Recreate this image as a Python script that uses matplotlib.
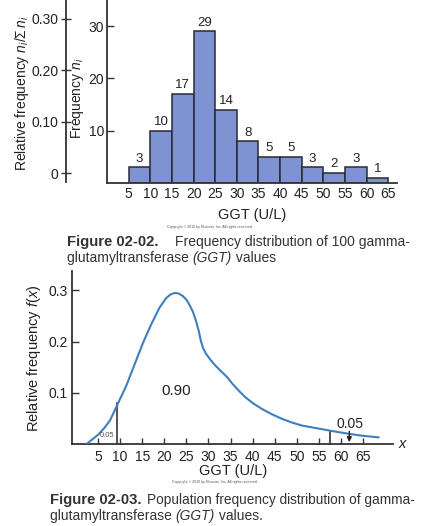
import matplotlib
matplotlib.use("Agg")
import matplotlib.pyplot as plt

plt.rcParams['font.family'] = ['Liberation Sans', 'DejaVu Sans']
plt.rcParams['mathtext.fontset'] = 'custom'
plt.rcParams['mathtext.rm'] = 'Liberation Sans'
plt.rcParams['mathtext.it'] = 'Liberation Sans:italic'
plt.rcParams['mathtext.bf'] = 'Liberation Sans:bold'

# ---- data: histogram (Figure 02-02)
bin_left = [5, 10, 15, 20, 25, 30, 35, 40, 45, 50, 55, 60]
counts = [3, 10, 17, 29, 14, 8, 5, 5, 3, 2, 3, 1]
bin_width = 5
x_ticks_top = [5, 10, 15, 20, 25, 30, 35, 40, 45, 50, 55, 60, 65]
freq_ticks = [10, 20, 30]
rel_ticks = [0, 0.10, 0.20, 0.30]
rel_labels = ["0", "0.10", "0.20", "0.30"]

# ---- data: population curve (Figure 02-03)
curve_x = [2.4, 3.7, 5.0, 6.4, 7.7, 9.5, 11.4, 13.3, 15.2, 17.0, 18.9, 20.4,
           21.4, 22.3, 23.3, 24.2, 25.0, 25.7, 26.5, 27.2, 27.8, 28.3, 28.8,
           29.4, 30.5, 31.7, 33.0, 34.3, 35.4, 36.9, 38.4, 40.2, 42.2, 44.4,
           46.7, 48.9, 51.2, 54.4, 57.6, 61.7, 65.0, 68.5]
curve_y = [0.0, 0.009, 0.018, 0.031, 0.046, 0.079, 0.114, 0.156, 0.198, 0.233,
           0.266, 0.285, 0.292, 0.295, 0.294, 0.289, 0.282, 0.272, 0.258, 0.240,
           0.221, 0.201, 0.187, 0.177, 0.164, 0.152, 0.141, 0.130, 0.118, 0.104,
           0.091, 0.079, 0.068, 0.058, 0.049, 0.042, 0.036, 0.031, 0.026, 0.020,
           0.016, 0.013]
lower_cut = (9.4, 0.081)
upper_cut = (57.6, 0.026)
x_ticks_bot = [5, 10, 15, 20, 25, 30, 35, 40, 45, 50, 55, 60, 65]
y_ticks_bot = [0.1, 0.2, 0.3]

W, H = 429, 526
fig = plt.figure(figsize=(W / 100, H / 100), dpi=100)


def axes_px(left, top, right, bottom, **kw):
    return fig.add_axes([left / W, 1 - bottom / H, (right - left) / W, (bottom - top) / H], **kw)


def ftext(x, y, s, **kw):
    return fig.text(x / W, 1 - y / H, s, **kw)


def text_run(x, y, pieces):
    """Place text pieces one after another on a line starting at pixel x."""
    renderer = fig.canvas.get_renderer()
    cur = x
    for s, kw in pieces:
        t = ftext(cur, y, s, ha='left', va='center', color='#333333', **kw)
        bb = t.get_window_extent(renderer=renderer)
        cur += bb.width


# ---------- top histogram ----------
ax = axes_px(107, 0, 397, 183)
ax.bar(bin_left, counts, width=bin_width, align='edge', color='#7f93d3',
       edgecolor='#2a2a35', linewidth=1.1, zorder=2)
for xl, c in zip(bin_left, counts):
    ax.text(xl + bin_width / 2, c + 0.5, str(c), ha='center', va='bottom',
            fontsize=9.5, color='#222222')
ax.set_xlim(0, 67)
ax.set_ylim(0, 35)
for s in ['top', 'right']:
    ax.spines[s].set_visible(False)
for s in ['left', 'bottom']:
    ax.spines[s].set_color('#333333')
    ax.spines[s].set_linewidth(1.3)
ax.set_xticks(x_ticks_top)
ax.set_xticklabels([str(v) for v in x_ticks_top])
ax.tick_params(axis='x', length=0, pad=3, labelsize=10, colors='#222222')
ax.set_yticks(freq_ticks)
ax.tick_params(axis='y', direction='in', length=5, width=1, pad=2,
               labelsize=10, colors='#333333', labelcolor='#222222')
ax.patch.set_alpha(0)

# relative frequency axis
rel_px = 0.30 / 155.0
axr = axes_px(66, 0, 67, 182)
axr.set_ylim(-9 * rel_px, 0.30 + 19 * rel_px)
axr.set_xticks([])
for s in ['top', 'right', 'bottom']:
    axr.spines[s].set_visible(False)
axr.spines['left'].set_color('#333333')
axr.spines['left'].set_linewidth(1.3)
axr.set_yticks(rel_ticks)
axr.set_yticklabels(rel_labels)
axr.tick_params(axis='y', direction='inout', length=7, width=1, pad=2,
                labelsize=10, colors='#333333', labelcolor='#222222')
axr.patch.set_alpha(0)

ftext(22, 93, r"Relative frequency $n_i/\Sigma\, n_i$", rotation=90,
      ha='center', va='center', fontsize=10, color='#222222')
ftext(78, 98, r"Frequency $n_i$", rotation=90,
      ha='center', va='center', fontsize=10, color='#222222')
ftext(252, 215, "GGT (U/L)", ha='center', va='center', fontsize=10.5, color='#222222')
ftext(210, 227, "Copyright \u00a9 2010 by Elsevier, Inc. All rights reserved.",
      ha='center', va='center', fontsize=2.6, color='#555555')

# caption 1
ftext(67, 242, "Figure 02-02.", ha='left', va='center', fontsize=10.7,
      fontweight='bold', color='#333333')
ftext(175, 242, "Frequency distribution of 100 gamma-", ha='left', va='center',
      fontsize=10, color='#333333')
text_run(67, 258, [("glutamyltransferase ", dict(fontsize=10)),
                   ("(GGT)", dict(fontsize=10, style='italic')),
                   (" values", dict(fontsize=10))])

# ---------- bottom curve ----------
ax2 = axes_px(72, 271, 393, 444)
ax2.plot(curve_x, curve_y, color='#3d7fbf', linewidth=1.5, zorder=3,
         solid_joinstyle='round')
ax2.plot([lower_cut[0], lower_cut[0]], [0, lower_cut[1]], color='#333333', linewidth=1.2)
ax2.plot([upper_cut[0], upper_cut[0]], [0, upper_cut[1]], color='#333333', linewidth=1.2)
ax2.annotate("", xy=(61.9, 0.0035), xytext=(61.9, 0.025),
             arrowprops=dict(arrowstyle='-|>', color='#222222', lw=1.0,
                             mutation_scale=7, shrinkA=0, shrinkB=0))
ax2.text(62.1, 0.039, "0.05", ha='center', va='center', fontsize=10, color='#222222')
ax2.text(22.7, 0.103, "0.90", ha='center', va='center', fontsize=11, color='#222222')
ax2.text(7.05, 0.016, "0.05", ha='center', va='center', fontsize=5.5, color='#555555')
ax2.set_xlim(-0.9, 71.8)
ax2.set_ylim(0, 0.338)
for s in ['top', 'right']:
    ax2.spines[s].set_visible(False)
for s in ['left', 'bottom']:
    ax2.spines[s].set_color('#333333')
    ax2.spines[s].set_linewidth(1.3)
ax2.set_xticks(x_ticks_bot)
ax2.set_xticklabels([str(v) for v in x_ticks_bot])
ax2.tick_params(axis='x', direction='in', length=4, width=1, pad=4,
                labelsize=10, colors='#333333', labelcolor='#222222')
ax2.set_yticks(y_ticks_bot)
ax2.set_yticklabels(["0.1", "0.2", "0.3"])
ax2.tick_params(axis='y', direction='in', length=5, width=1, pad=3,
                labelsize=10, colors='#333333', labelcolor='#222222')
ax2.patch.set_alpha(0)

ftext(402, 444, "x", ha='center', va='center', fontsize=10.5, style='italic', color='#222222')
ftext(34, 358, r"Relative frequency $f(x)$", rotation=90, ha='center', va='center',
      fontsize=10.5, color='#222222')
ftext(233, 471, "GGT (U/L)", ha='center', va='center', fontsize=10.5, color='#222222')
ftext(215, 482, "Copyright \u00a9 2010 by Elsevier, Inc. All rights reserved.",
      ha='center', va='center', fontsize=2.6, color='#555555')

# caption 2
ftext(50, 500, "Figure 02-03.", ha='left', va='center', fontsize=10.7,
      fontweight='bold', color='#333333')
ftext(147, 500, "Population frequency distribution of gamma-", ha='left', va='center',
      fontsize=9.8, color='#333333')
text_run(50, 516, [("glutamyltransferase ", dict(fontsize=10)),
                   ("(GGT)", dict(fontsize=10, style='italic')),
                   (" values.", dict(fontsize=10))])

fig.savefig("out.png", dpi=100, facecolor='white')
